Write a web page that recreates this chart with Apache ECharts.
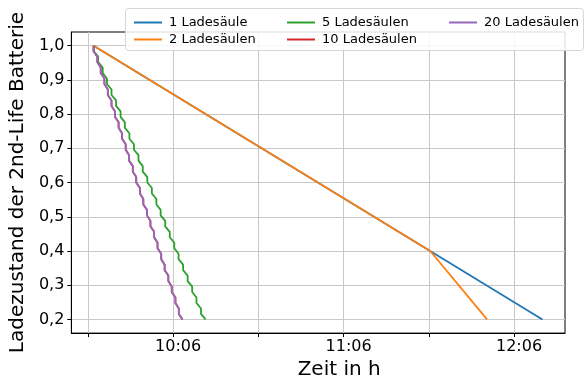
<!DOCTYPE html>
<html>
<head>
<meta charset="utf-8">
<script src="https://cdn.jsdelivr.net/npm/echarts@6/dist/echarts.min.js"></script>
<style>
  html, body { margin: 0; padding: 0; background: #fff; }
  #chart { width: 585px; height: 385px; }
</style>
</head>
<body>
<div id="chart"></div>
<script>
// Zeit in Minuten ab Mitternacht, Ladezustand 0..1
const seriesNames = ['1 Ladesäule', '2 Ladesäulen', '5 Ladesäulen', '10 Ladesäulen', '20 Ladesäulen'];
const colors = ['#1f77b4', '#ff7f0e', '#2ca02c', '#d62728', '#9467bd'];

const soc1 = [[578.0, 1.0], [736.0, 0.2]];
const soc2 = [[578.0, 1.0], [696.5, 0.4], [716.5, 0.2]];
const soc5 = [
  [578.0, 1.000], [578.0, 0.984], [579.6, 0.968], [579.6, 0.952], [581.2, 0.936], [581.2, 0.920],
  [582.7, 0.904], [582.7, 0.888], [584.3, 0.872], [584.3, 0.856], [585.9, 0.840], [585.9, 0.824],
  [587.5, 0.808], [587.5, 0.792], [589.0, 0.776], [589.0, 0.760], [590.6, 0.744], [590.6, 0.728],
  [592.2, 0.712], [592.2, 0.696], [593.8, 0.680], [593.8, 0.664], [595.3, 0.648], [595.3, 0.632],
  [596.9, 0.616], [596.9, 0.600], [598.5, 0.584], [598.5, 0.568], [600.1, 0.552], [600.1, 0.536],
  [601.6, 0.520], [601.6, 0.504], [603.2, 0.488], [603.2, 0.472], [604.8, 0.456], [604.8, 0.440],
  [606.4, 0.424], [606.4, 0.408], [607.9, 0.392], [607.9, 0.376], [609.5, 0.360], [609.5, 0.344],
  [611.1, 0.328], [611.1, 0.312], [612.7, 0.296], [612.7, 0.280], [614.2, 0.264], [614.2, 0.248],
  [615.8, 0.232], [615.8, 0.216], [617.4, 0.200]
];
const soc10 = [
  [578.0, 1.000], [578.0, 0.984], [579.3, 0.968], [579.3, 0.952], [580.5, 0.936], [580.5, 0.920],
  [581.8, 0.904], [581.8, 0.888], [583.0, 0.872], [583.0, 0.856], [584.3, 0.840], [584.3, 0.824],
  [585.5, 0.808], [585.5, 0.792], [586.8, 0.776], [586.8, 0.760], [588.0, 0.744], [588.0, 0.728],
  [589.3, 0.712], [589.3, 0.696], [590.5, 0.680], [590.5, 0.664], [591.8, 0.648], [591.8, 0.632],
  [593.0, 0.616], [593.0, 0.600], [594.3, 0.584], [594.3, 0.568], [595.5, 0.552], [595.5, 0.536],
  [596.8, 0.520], [596.8, 0.504], [598.0, 0.488], [598.0, 0.472], [599.3, 0.456], [599.3, 0.440],
  [600.5, 0.424], [600.5, 0.408], [601.8, 0.392], [601.8, 0.376], [603.0, 0.360], [603.0, 0.344],
  [604.3, 0.328], [604.3, 0.312], [605.5, 0.296], [605.5, 0.280], [606.8, 0.264], [606.8, 0.248],
  [608.0, 0.232], [608.0, 0.216], [609.3, 0.200]
];
const soc20 = [
  [578.0, 1.000], [578.0, 0.984], [579.3, 0.968], [579.3, 0.952], [580.5, 0.936], [580.5, 0.920],
  [581.8, 0.904], [581.8, 0.888], [583.0, 0.872], [583.0, 0.856], [584.3, 0.840], [584.3, 0.824],
  [585.5, 0.808], [585.5, 0.792], [586.8, 0.776], [586.8, 0.760], [588.0, 0.744], [588.0, 0.728],
  [589.3, 0.712], [589.3, 0.696], [590.5, 0.680], [590.5, 0.664], [591.8, 0.648], [591.8, 0.632],
  [593.0, 0.616], [593.0, 0.600], [594.3, 0.584], [594.3, 0.568], [595.5, 0.552], [595.5, 0.536],
  [596.8, 0.520], [596.8, 0.504], [598.0, 0.488], [598.0, 0.472], [599.3, 0.456], [599.3, 0.440],
  [600.5, 0.424], [600.5, 0.408], [601.8, 0.392], [601.8, 0.376], [603.0, 0.360], [603.0, 0.344],
  [604.3, 0.328], [604.3, 0.312], [605.5, 0.296], [605.5, 0.280], [606.8, 0.264], [606.8, 0.248],
  [608.0, 0.232], [608.0, 0.216], [609.3, 0.200]
];
const allData = [soc1, soc2, soc5, soc10, soc20];

const xTicks = [576, 606, 636, 666, 696, 726];
const xLabels = [606, 666, 726];
const yTicks = [0.2, 0.3, 0.4, 0.5, 0.6, 0.7, 0.8, 0.9, 1.0];

const font = 'DejaVu Sans';
const chart = echarts.init(document.getElementById('chart'));

function hhmm(m) {
  const h = Math.floor(m / 60);
  const mm = Math.round(m - h * 60);
  return h + ':' + (mm < 10 ? '0' + mm : mm);
}

function legendCol(names, left) {
  return {
    data: names,
    orient: 'vertical',
    left: left,
    top: 11,
    itemWidth: 28,
    itemHeight: 2,
    itemGap: 4,
    icon: 'rect',
    textStyle: { fontFamily: font, fontSize: 13, color: '#000', padding: [0, 0, 0, 2] }
  };
}

chart.setOption({
  animation: false,
  grid: {
    left: 70.5, right: 20, top: 32, bottom: 48.5,
    show: true, borderColor: '#000', borderWidth: 1, backgroundColor: 'transparent'
  },
  graphic: [{
    type: 'rect',
    z: 3,
    shape: { x: 125.5, y: 8.5, width: 458, height: 42, r: 3 },
    style: { fill: 'rgba(255,255,255,0.85)', stroke: '#d6d6d6', lineWidth: 1 }
  }],
  legend: [
    legendCol(['1 Ladesäule', '2 Ladesäulen'], 129),
    legendCol(['5 Ladesäulen', '10 Ladesäulen'], 282),
    legendCol(['20 Ladesäulen'], 444)
  ],
  xAxis: {
    type: 'value',
    min: 570.16,
    max: 743.94,
    name: 'Zeit in h',
    nameLocation: 'middle',
    nameGap: 26,
    nameTextStyle: { fontFamily: font, fontSize: 20, color: '#000', padding: [0, 0, 0, 42] },
    axisLine: { lineStyle: { color: '#000', width: 1 } },
    axisTick: { show: true, customValues: xTicks, length: 4, lineStyle: { color: '#000' } },
    axisLabel: {
      customValues: xLabels,
      formatter: hhmm,
      margin: 6,
      fontFamily: font, fontSize: 16, color: '#000',
      padding: [0, 0, 0, 10]
    },
    splitLine: { show: true, lineStyle: { color: '#c8c8c8', width: 1 } }
  },
  yAxis: {
    type: 'value',
    min: 0.16,
    max: 1.04,
    name: 'Ladezustand der 2nd-Life Batterie',
    nameLocation: 'middle',
    nameGap: 41,
    nameTextStyle: { fontFamily: font, fontSize: 20, color: '#000' },
    axisLine: { show: true, lineStyle: { color: '#000', width: 1 } },
    axisTick: { show: true, customValues: yTicks, length: 4, lineStyle: { color: '#000' } },
    axisLabel: {
      customValues: yTicks,
      formatter: v => v.toFixed(1).replace('.', ','),
      margin: 7,
      fontFamily: font, fontSize: 16, color: '#000'
    },
    splitLine: { show: true, lineStyle: { color: '#c8c8c8', width: 1 } }
  },
  series: seriesNames.map((name, i) => ({
    name: name,
    type: 'line',
    data: allData[i],
    symbol: 'none',
    color: colors[i],
    lineStyle: { width: 1.8, color: colors[i] }
  }))
});
</script>
</body>
</html>
